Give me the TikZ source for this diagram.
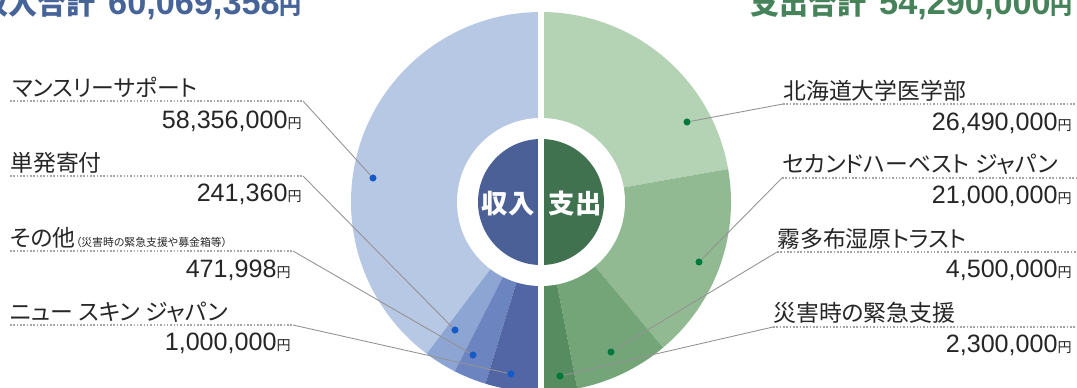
\documentclass[tikz,border=0pt]{standalone}
\usepackage{fontspec}
\newfontfamily\jpfont[RawFeature=+palt]{Noto Sans CJK JP}
\newfontfamily\numfont{Liberation Sans}
\definecolor{inA}{RGB}{183,200,228}
\definecolor{inB}{RGB}{140,165,210}
\definecolor{inC}{RGB}{108,132,192}
\definecolor{inD}{RGB}{82,102,166}
\definecolor{inCore}{RGB}{76,96,152}
\definecolor{outA}{RGB}{180,210,180}
\definecolor{outB}{RGB}{146,186,146}
\definecolor{outC}{RGB}{116,165,121}
\definecolor{outD}{RGB}{86,140,96}
\definecolor{outCore}{RGB}{64,114,80}
\definecolor{ttlB}{RGB}{70,100,152}
\definecolor{ttlG}{RGB}{70,130,90}
\definecolor{dotB}{RGB}{20,90,200}
\definecolor{dotG}{RGB}{0,120,60}
\newcommand\yenmark{{\jpfont\fontsize{8pt}{8pt}\selectfont 円}}
\newcommand\ttltext[2]{{\fontsize{16.5pt}{17pt}\selectfont #1}\hspace{7pt}%
  {\numfont\fontsize{19.5pt}{20pt}\selectfont #2}{\fontsize{12.5pt}{13pt}\selectfont 円}}
\tikzset{
  lbl/.style={inner sep=0pt, anchor=base west, text=black!85,
    font=\jpfont\fontsize{13pt}{15pt}\selectfont},
  val/.style={inner sep=0pt, anchor=base east, text=black!85,
    font=\numfont\fontsize{14.3pt}{16pt}\selectfont},
  underl/.style={densely dotted, gray!70, line width=0.9pt},
  leader/.style={gray!85, line width=0.5pt},
  bdot/.style={circle, fill=dotB, inner sep=0pt, minimum size=4pt},
  gdot/.style={circle, fill=dotG, inner sep=0pt, minimum size=4pt},
  midlbl/.style={inner sep=0pt, text=white,
    font=\jpfont\bfseries\fontsize{15pt}{15pt}\selectfont},
  ttl/.style={inner sep=0pt, anchor=base east, font=\jpfont\bfseries}
}
\begin{document}
\begin{tikzpicture}[x=0.02cm, y=0.02cm]
  \useasboundingbox (0,0) rectangle (1077,387);
  \clip (0,0) rectangle (1077,387);

  % pie
  \begin{scope}[shift={(541,185)}]
    \fill[inA] (0,0) -- (90:190) arc[start angle=90, end angle=233, radius=190] -- cycle;
    \fill[inB] (0,0) -- (233:190) arc[start angle=233, end angle=243, radius=190] -- cycle;
    \fill[inC] (0,0) -- (243:190) arc[start angle=243, end angle=253, radius=190] -- cycle;
    \fill[inD] (0,0) -- (253:190) arc[start angle=253, end angle=270, radius=190] -- cycle;
    \fill[outA] (0,0) -- (90:190) arc[start angle=90, end angle=10, radius=190] -- cycle;
    \fill[outB] (0,0) -- (10:190) arc[start angle=10, end angle=-50, radius=190] -- cycle;
    \fill[outC] (0,0) -- (-50:190) arc[start angle=-50, end angle=-79, radius=190] -- cycle;
    \fill[outD] (0,0) -- (-79:190) arc[start angle=-79, end angle=-90, radius=190] -- cycle;
    \fill[white] (0,0) circle[radius=84];
    \fill[inCore] (0,0) -- (90:63) arc[start angle=90, end angle=270, radius=63] -- cycle;
    \fill[outCore] (0,0) -- (90:63) arc[start angle=90, end angle=-90, radius=63] -- cycle;
    \draw[white, line width=3.4pt] (0,-200) -- (0,200);
  \end{scope}
  \node[midlbl] (inc) at (508,183) {収入};
  \node[midlbl] (outg) at (575,183) {支出};

  % titles
  \node[ttl, text=ttlB] (tin) at (302,373) {\ttltext{収入合計}{60,069,358}};
  \node[ttl, text=ttlG] (tout) at (1073,373) {\ttltext{支出合計}{54,290,000}};

  % income labels
  \node[lbl] (l1) at (12,291) {マンスリーサポート};
  \node[val] (v1) at (302,259) {58,356,000\yenmark};
  \node[lbl] (l2) at (10,216) {単発寄付};
  \node[lbl] (l3) at (10,141) {その他{\fontsize{6.2pt}{7pt}\selectfont （災害時の緊急支援や募金箱等）}};
  \node[val] (v2) at (302,186) {241,360\yenmark};
  \node[val] (v3) at (291,110) {471,998\yenmark};
  \node[lbl] (l4) at (10,67) {ニュー スキン ジャパン};
  \node[val] (v4) at (291,37) {1,000,000\yenmark};

  \coordinate (a1) at (10,286);  \coordinate (b1) at (303,286);
  \coordinate (a2) at (10,211);  \coordinate (b2) at (303,211);
  \coordinate (a3) at (10,136);  \coordinate (b3) at (293,136);
  \coordinate (a4) at (10,62);   \coordinate (b4) at (293,62);
  \draw[underl] (a1) -- (b1);
  \draw[underl] (a2) -- (b2);
  \draw[underl] (a3) -- (b3);
  \draw[underl] (a4) -- (b4);

  \node[bdot] (d1) at (373,209) {};
  \node[bdot] (d2) at (455,57) {};
  \node[bdot] (d3) at (473,32) {};
  \node[bdot] (d4) at (511,13) {};
  \draw[leader] (b1) -- (d1);
  \draw[leader] (b2) -- (d2);
  \draw[leader] (b3) -- (d3);
  \draw[leader] (b4) -- (d4);

  % expense labels
  \node[lbl] (r1) at (783,288) {北海道大学医学部};
  \node[val] (w1) at (1072,257) {26,490,000\yenmark};
  \node[lbl] (r2) at (782,215) {セカンドハーベスト ジャパン};
  \node[val] (w2) at (1072,184) {21,000,000\yenmark};
  \node[lbl] (r3) at (777,140) {霧多布湿原トラスト};
  \node[val] (w3) at (1072,110) {4,500,000\yenmark};
  \node[lbl] (r4) at (773,66) {災害時の緊急支援};
  \node[val] (w4) at (1072,35) {2,300,000\yenmark};

  \coordinate (p1) at (783,283);  \coordinate (q1) at (1077,283);
  \coordinate (p2) at (782,209);  \coordinate (q2) at (1077,209);
  \coordinate (p3) at (777,135);  \coordinate (q3) at (1077,135);
  \coordinate (p4) at (773,60);   \coordinate (q4) at (1077,60);
  \draw[underl] (p1) -- (q1);
  \draw[underl] (p2) -- (q2);
  \draw[underl] (p3) -- (q3);
  \draw[underl] (p4) -- (q4);

  \node[gdot] (e1) at (687,265) {};
  \node[gdot] (e2) at (699,125) {};
  \node[gdot] (e3) at (611,35) {};
  \node[gdot] (e4) at (560,11) {};
  \draw[leader] (p1) -- (e1);
  \draw[leader] (p2) -- (e2);
  \draw[leader] (p3) -- (e3);
  \draw[leader] (p4) -- (e4);
\end{tikzpicture}
\end{document}
